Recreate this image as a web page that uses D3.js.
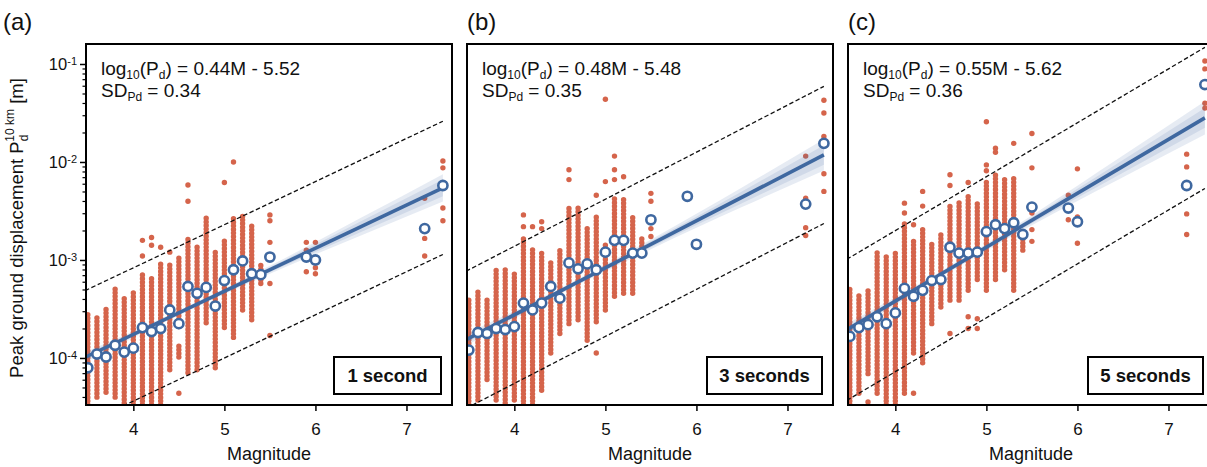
<!DOCTYPE html>
<html>
<head>
<meta charset="utf-8">
<script src="https://cdn.jsdelivr.net/npm/d3@7"></script>
<style>
body { margin: 0; background: #fff; }
text { font-family: "Liberation Sans", Arial, Helvetica, sans-serif; fill: #111; }
</style>
</head>
<body>
<div id="chart"></div>
<script>
// magnitude bins of the open circles
var bin_mags = [3.5,3.6,3.7,3.8,3.9,4.0,4.1,4.2,4.3,4.4,4.5,4.6,4.7,4.8,4.9,5.0,5.1,5.2,5.3,5.4,5.5,5.9,6.0,7.2,7.4];
// binned log10(Pd) per panel
var bin_a = [-4.10,-3.96,-3.99,-3.87,-3.94,-3.90,-3.69,-3.73,-3.70,-3.51,-3.65,-3.27,-3.34,-3.28,-3.47,-3.21,-3.10,-3.01,-3.14,-3.15,-2.97,-2.97,-3.00,-2.68,-2.24];
var bin_b = [-3.92,-3.74,-3.75,-3.70,-3.71,-3.68,-3.44,-3.51,-3.44,-3.27,-3.39,-3.03,-3.09,-3.04,-3.10,-2.92,-2.80,-2.80,-2.93,-2.93,-2.59,-2.35,-2.84,-2.43,-1.81];
var bin_c = [-3.78,-3.69,-3.66,-3.58,-3.65,-3.54,-3.29,-3.37,-3.31,-3.21,-3.20,-2.87,-2.93,-2.93,-2.92,-2.71,-2.64,-2.68,-2.62,-2.74,-2.46,-2.47,-2.61,-2.24,-1.21];

// regression fits
var fit_slope = [0.44, 0.48, 0.55];
var fit_icpt = [-5.52, -5.48, -5.62];
var fit_sd = [0.34, 0.35, 0.36];
var fit_range = [3.4, 7.4];

// confidence band half widths (log10 units)
var band_mags = [3.5, 4.5, 5.5, 6.5, 7.4];
var band_outer_a = [0.05, 0.025, 0.04, 0.09, 0.14];
var band_inner_a = [0.03, 0.015, 0.025, 0.055, 0.085];
var band_outer_b = [0.06, 0.03, 0.05, 0.10, 0.16];
var band_inner_b = [0.035, 0.018, 0.03, 0.06, 0.10];
var band_outer_c = [0.06, 0.03, 0.05, 0.11, 0.17];
var band_inner_c = [0.035, 0.018, 0.03, 0.065, 0.10];

// individual records: [magnitude, [[low, high] runs of log10(Pd)]]
var scatter_a = [
  [3.5, [[-4.55,-3.53]]],
  [3.6, [[-4.40,-3.57]]],
  [3.7, [[-4.35,-3.49]]],
  [3.8, [[-4.40,-3.29]]],
  [3.9, [[-4.46,-3.36]]],
  [4.0, [[-4.55,-3.31]]],
  [4.1, [[-2.80,-2.80],[-2.96,-2.96],[-4.55,-3.13]]],
  [4.2, [[-2.77,-2.77],[-2.85,-2.85],[-4.55,-3.17]]],
  [4.3, [[-2.87,-2.87],[-4.55,-3.02]]],
  [4.4, [[-2.92,-2.92],[-4.12,-3.03]]],
  [4.5, [[-3.68,-2.98],[-3.99,-3.85],[-4.36,-4.36]]],
  [4.6, [[-2.235,-2.235],[-2.40,-2.40],[-4.15,-2.78]]],
  [4.7, [[-4.12,-2.85]]],
  [4.8, [[-3.64,-2.57]]],
  [4.9, [[-4.10,-2.90]]],
  [5.0, [[-2.21,-2.21],[-3.69,-2.78]]],
  [5.1, [[-2.00,-2.00],[-3.79,-2.57]]],
  [5.2, [[-3.51,-2.54]]],
  [5.3, [[-3.61,-2.62]]],
  [5.4, [[-3.24,-3.03]]],
  [5.5, [[-2.54,-2.54],[-2.60,-2.60],[-2.82,-2.82],[-3.24,-3.24],[-3.77,-3.77]]],
  [5.9, [[-2.82,-2.82],[-2.90,-2.90],[-3.12,-3.12]]],
  [6.0, [[-2.82,-2.82],[-3.08,-3.08],[-3.14,-3.14]]],
  [7.2, [[-2.37,-2.37],[-2.78,-2.78],[-2.96,-2.96]]],
  [7.4, [[-1.99,-1.99],[-2.06,-2.06],[-2.47,-2.47],[-2.60,-2.60]]]
];
var scatter_b = [
  [3.5, [[-4.55,-3.39]]],
  [3.6, [[-4.43,-3.32]]],
  [3.7, [[-4.22,-3.39]]],
  [3.8, [[-4.43,-3.10]]],
  [3.9, [[-4.46,-3.09]]],
  [4.0, [[-4.43,-3.14]]],
  [4.1, [[-2.54,-2.54],[-2.66,-2.66],[-4.55,-2.78]]],
  [4.2, [[-2.66,-2.66],[-4.55,-2.88]]],
  [4.3, [[-2.61,-2.61],[-2.68,-2.68],[-4.33,-2.93]]],
  [4.4, [[-3.95,-3.00]]],
  [4.5, [[-3.75,-2.88]]],
  [4.6, [[-2.08,-2.08],[-2.18,-2.18],[-3.65,-2.44]]],
  [4.7, [[-3.61,-2.47]]],
  [4.8, [[-3.82,-2.68]]],
  [4.9, [[-2.34,-2.34],[-3.63,-2.56],[-3.95,-3.95]]],
  [5.0, [[-1.36,-1.36],[-2.20,-2.20],[-3.51,-2.83]]],
  [5.1, [[-1.94,-1.94],[-2.08,-2.08],[-2.18,-2.18],[-3.37,-2.37]]],
  [5.2, [[-2.15,-2.15],[-3.34,-2.37]]],
  [5.3, [[-3.34,-2.56]]],
  [5.4, [[-2.86,-2.76]]],
  [5.5, [[-2.32,-2.32],[-2.40,-2.40],[-2.68,-2.68],[-2.76,-2.76]]],
  [7.2, [[-1.94,-1.94],[-2.37,-2.37],[-2.67,-2.67],[-2.75,-2.75]]],
  [7.4, [[-1.37,-1.37],[-1.50,-1.50],[-1.74,-1.74],[-2.12,-2.12],[-2.30,-2.30]]]
];
var scatter_c = [
  [3.5, [[-4.55,-3.27]]],
  [3.6, [[-4.36,-3.34]]],
  [3.7, [[-4.16,-3.31],[-4.45,-4.45]]],
  [3.8, [[-4.36,-2.90]]],
  [3.9, [[-4.55,-2.97]]],
  [4.0, [[-4.55,-2.93]]],
  [4.1, [[-2.42,-2.42],[-2.52,-2.52],[-4.36,-2.63]]],
  [4.2, [[-2.64,-2.64],[-3.95,-2.80],[-4.36,-4.36]]],
  [4.3, [[-2.30,-2.30],[-2.45,-2.45],[-4.05,-2.66]]],
  [4.4, [[-3.65,-2.81]]],
  [4.5, [[-3.48,-2.73]]],
  [4.6, [[-2.13,-2.13],[-2.24,-2.24],[-3.41,-2.42],[-3.75,-3.75]]],
  [4.7, [[-3.41,-2.41]]],
  [4.8, [[-2.21,-2.21],[-3.31,-2.35],[-3.58,-3.58],[-3.70,-3.70]]],
  [4.9, [[-3.20,-2.42],[-3.60,-3.60],[-3.70,-3.70]]],
  [5.0, [[-1.59,-1.59],[-2.03,-2.03],[-2.09,-2.09],[-3.31,-2.18]]],
  [5.1, [[-1.86,-1.86],[-1.90,-1.90],[-3.20,-2.10]]],
  [5.2, [[-3.10,-2.15]]],
  [5.3, [[-1.81,-1.81],[-3.31,-2.17]]],
  [5.4, [[-2.90,-2.68]]],
  [5.5, [[-1.71,-1.71],[-2.06,-2.06],[-2.52,-2.52],[-2.69,-2.69],[-2.81,-2.81]]],
  [5.9, [[-2.34,-2.34],[-2.59,-2.59]]],
  [6.0, [[-2.07,-2.07],[-2.56,-2.56],[-2.83,-2.83]]],
  [7.2, [[-1.92,-1.92],[-2.05,-2.05],[-2.53,-2.53],[-2.74,-2.74]]],
  [7.4, [[-0.97,-0.97],[-1.05,-1.05],[-1.40,-1.40],[-1.45,-1.45]]]
];

var panel_letters = ["(a)", "(b)", "(c)"];
var window_labels = ["1 second", "3 seconds", "5 seconds"];
var x_ticks = [4, 5, 6, 7];
var y_decades = [1e-4, 1e-3, 1e-2, 1e-1];
var x_title = "Magnitude";

var panels = [
  {bins: bin_a, scatter: scatter_a, outer: band_outer_a, inner: band_inner_a},
  {bins: bin_b, scatter: scatter_b, outer: band_outer_b, inner: band_inner_b},
  {bins: bin_c, scatter: scatter_c, outer: band_outer_c, inner: band_inner_c}
];

var red = "#d5644b", blue = "#3f68a0";
var pw = 366, ph = 361, top_y = 44;
var lefts = [86, 467, 848];

var svg = d3.select("#chart").append("svg")
  .attr("width", 1207)
  .attr("height", 467);

var x = d3.scaleLinear().domain([3.48, 7.5]).range([0, pw]);
var y = d3.scaleLog().domain([Math.pow(10, -4.48), Math.pow(10, -0.796)]).range([ph, 0]);
function ly(v) { return y(Math.pow(10, v)); }

panels.forEach(function(p, i) {
  var g = svg.append("g").attr("transform", "translate(" + lefts[i] + "," + top_y + ")");

  g.append("clipPath").attr("id", "clip" + i)
    .append("rect").attr("width", pw).attr("height", ph);
  var plot = g.append("g").attr("clip-path", "url(#clip" + i + ")");

  // scatter records
  p.scatter.forEach(function(col) {
    col[1].forEach(function(r) {
      if (r[0] == r[1]) {
        plot.append("circle")
          .attr("cx", x(col[0])).attr("cy", ly(r[0])).attr("r", 2.7)
          .attr("fill", red);
      } else {
        plot.append("line")
          .attr("x1", x(col[0])).attr("x2", x(col[0]))
          .attr("y1", ly(r[0])).attr("y2", ly(r[1]))
          .attr("stroke", red).attr("stroke-width", 5.4)
          .attr("stroke-linecap", "round")
          .attr("stroke-dasharray", "0 3.6");
      }
    });
  });

  var fit = function(m) { return fit_slope[i] * m + fit_icpt[i]; };

  // confidence bands
  [p.outer, p.inner].forEach(function(w) {
    var area = d3.area()
      .x(function(d, k) { return x(band_mags[k]); })
      .y0(function(d, k) { return ly(fit(band_mags[k]) - d); })
      .y1(function(d, k) { return ly(fit(band_mags[k]) + d); })
      .curve(d3.curveMonotoneX);
    plot.append("path").attr("d", area(w))
      .attr("fill", blue).attr("fill-opacity", 0.13);
  });

  // +-2 SD lines
  [-2, 2].forEach(function(s) {
    plot.append("line")
      .attr("x1", x(fit_range[0])).attr("y1", ly(fit(fit_range[0]) + s * fit_sd[i]))
      .attr("x2", x(fit_range[1])).attr("y2", ly(fit(fit_range[1]) + s * fit_sd[i]))
      .attr("stroke", "#111").attr("stroke-width", 1.3)
      .attr("stroke-dasharray", "4.5,2.5");
  });

  // regression line
  plot.append("line")
    .attr("x1", x(fit_range[0])).attr("y1", ly(fit(fit_range[0])))
    .attr("x2", x(fit_range[1])).attr("y2", ly(fit(fit_range[1])))
    .attr("stroke", blue).attr("stroke-width", 3.6);

  // binned means
  plot.selectAll(".bin")
    .data(p.bins)
    .enter().append("circle")
    .attr("class", "bin")
    .attr("cx", function(d, k) { return x(bin_mags[k]); })
    .attr("cy", function(d) { return ly(d); })
    .attr("r", 4.6)
    .attr("fill", "#fff")
    .attr("stroke", blue)
    .attr("stroke-width", 2.6);

  // frame
  g.append("rect").attr("width", pw).attr("height", ph)
    .attr("fill", "none").attr("stroke", "#000").attr("stroke-width", 2);

  // x axis
  var xa = g.append("g").attr("transform", "translate(0," + ph + ")")
    .call(d3.axisBottom(x).tickValues(x_ticks).tickSize(6).tickFormat(d3.format("d")));
  xa.select(".domain").remove();
  xa.selectAll("line").attr("stroke-width", 1.5);
  xa.selectAll("text").style("font-size", "17px").attr("fill", "#111")
    .attr("y", 30).attr("dy", 0);

  g.append("text")
    .attr("x", pw / 2).attr("y", 416)
    .attr("text-anchor", "middle")
    .style("font-size", "18px")
    .text(x_title);

  // y axis only on the first panel
  if (i == 0) {
    var minor = y.ticks().filter(function(v) { return y_decades.indexOf(v) < 0; });
    var ym = g.append("g").call(d3.axisLeft(y).tickValues(minor).tickSize(3.5).tickFormat(""));
    ym.select(".domain").remove();
    ym.selectAll("line").attr("stroke-width", 1.2);
    var ya = g.append("g").call(d3.axisLeft(y).tickValues(y_decades).tickSize(6).tickPadding(3));
    ya.select(".domain").remove();
    ya.selectAll("line").attr("stroke-width", 1.5);
    ya.selectAll("text").each(function(d) {
      var t = d3.select(this).text("").style("font-size", "16.5px").attr("fill", "#111");
      t.append("tspan").text("10");
      t.append("tspan").attr("dy", "-0.45em").style("font-size", "11px").text(Math.round(Math.log10(d)));
    });
  }

  // equation
  var eq = g.append("text").attr("x", 15).attr("y", 31).style("font-size", "19px");
  eq.append("tspan").text("log");
  eq.append("tspan").attr("dy", 4).style("font-size", "12px").text("10");
  eq.append("tspan").attr("dy", -4).text("(P");
  eq.append("tspan").attr("dy", 4).style("font-size", "12px").text("d");
  eq.append("tspan").attr("dy", -4)
    .text(") = " + fit_slope[i].toFixed(2) + "M - " + Math.abs(fit_icpt[i]).toFixed(2));
  var sd = g.append("text").attr("x", 15).attr("y", 53).style("font-size", "19px");
  sd.append("tspan").text("SD");
  sd.append("tspan").attr("dy", 4).style("font-size", "12px").text("Pd");
  sd.append("tspan").attr("dy", -4).text(" = " + fit_sd[i].toFixed(2));

  // time window box
  var bw = i == 0 ? 107 : 115, bh = 37;
  g.append("rect")
    .attr("x", pw - 11 - bw).attr("y", ph - 11 - bh)
    .attr("width", bw).attr("height", bh)
    .attr("fill", "#fff").attr("stroke", "#000").attr("stroke-width", 2);
  g.append("text")
    .attr("x", pw - 11 - bw / 2).attr("y", ph - 11 - bh / 2 + 6.5)
    .attr("text-anchor", "middle")
    .style("font-size", "18.5px").style("font-weight", "bold")
    .text(window_labels[i]);

  // panel letter
  svg.append("text")
    .attr("x", i == 0 ? 3 : lefts[i])
    .attr("y", 30)
    .style("font-size", "24px")
    .text(panel_letters[i]);
});

// y axis title
var yt = svg.append("text")
  .attr("transform", "translate(23,228) rotate(-90)")
  .attr("text-anchor", "middle")
  .style("font-size", "18.5px");
yt.append("tspan").text("Peak ground displacement P");
yt.append("tspan").attr("dy", 5).style("font-size", "12px").text("d");
yt.append("tspan").attr("dx", -7).attr("dy", -14).style("font-size", "12px").text("10 km");
yt.append("tspan").attr("dy", 9).text(" [m]");
</script>
</body>
</html>
